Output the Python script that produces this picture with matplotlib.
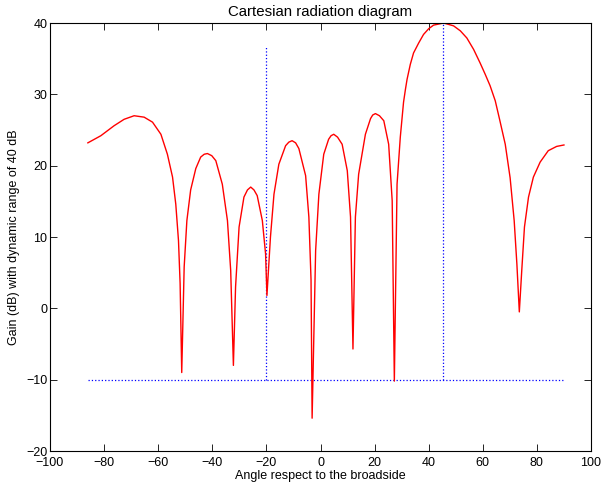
import matplotlib
matplotlib.use("Agg")
import matplotlib.pyplot as plt

# gain curve (angle in degrees, gain in dB)
angle = [-86, -81.2, -76.3, -72.6, -68.9, -65.2, -62.1, -59.0, -56.6, -54.7,
         -53.5, -52.5, -51.9, -51.3, -50.4, -49.4, -48.0, -46.1, -44.3, -43.0,
         -41.8, -40.2, -38.7, -36.3, -34.4, -33.2, -32.2, -31.4, -30.1, -28.3,
         -27.0, -25.8, -24.6, -23.4, -21.5, -20.3, -19.8, -18.5, -17.2, -15.4,
         -12.9, -11.7, -10.5, -9.2, -8.0, -5.5, -4.3, -3.5, -3.1, -1.8,
         -0.6, 1.2, 3.0, 3.9, 4.9, 6.3, 8.0, 9.9, 11.1, 12.0,
         12.9, 14.1, 16.6, 18.5, 19.3, 20.3, 21.8, 23.4, 25.2, 26.5,
         27.3, 28.3, 29.5, 30.7, 31.4, 32.0, 33.2, 34.4, 36.3, 38.1,
         40.0, 41.8, 45.5, 49.2, 51.7, 54.1, 56.6, 59.0, 60.9, 62.7,
         64.6, 66.2, 68.3, 70.1, 71.6, 72.6, 73.5, 74.4, 75.4, 76.9,
         78.7, 81.2, 84.2, 87.3, 90.0]
gain = [23.2, 24.2, 25.6, 26.5, 27.0, 26.8, 26.1, 24.4, 21.6, 18.4,
        14.6, 9.5, 3.5, -9.0, 5.8, 12.3, 16.6, 19.6, 21.2, 21.6,
        21.7, 21.4, 20.7, 17.4, 12.3, 5.3, -8.0, 3.0, 11.4, 15.6,
        16.6, 17.0, 16.6, 15.8, 12.3, 7.6, 1.8, 10.0, 16.0, 20.2,
        22.8, 23.3, 23.5, 23.2, 22.4, 18.6, 12.8, 4.0, -15.4, 8.1,
        16.0, 21.6, 23.7, 24.2, 24.4, 24.0, 23.0, 19.3, 12.8, -5.7,
        12.8, 18.8, 24.4, 26.6, 27.1, 27.3, 27.0, 26.3, 23.0, 15.1,
        -10.2, 17.4, 24.0, 28.9, 30.7, 32.1, 34.2, 35.8, 37.2, 38.4,
        39.2, 39.7, 40.0, 39.6, 38.9, 37.9, 36.3, 34.4, 32.8, 31.2,
        29.1, 26.5, 23.0, 18.3, 12.3, 6.2, -0.5, 5.3, 11.4, 15.6,
        18.4, 20.5, 22.1, 22.7, 22.9]

# reference markers
floor_x = [-86, 90]
floor_y = [-10, -10]
mark1_x = [-20, -20]
mark1_y = [-10, 36.8]
mark2_x = [45.4, 45.4]
mark2_y = [-10, 40]

plt.rcParams['font.family'] = ['Liberation Sans', 'DejaVu Sans']
plt.rcParams['font.size'] = 9

fig = plt.figure(figsize=(6.02, 4.83), dpi=100)
ax = fig.add_axes([50 / 602, 32 / 483, 541 / 602, 428 / 483])

ax.plot(floor_x, floor_y, ':', color='b', lw=0.9)
ax.plot(mark1_x, mark1_y, ':', color='b', lw=0.9)
ax.plot(mark2_x, mark2_y, ':', color='b', lw=0.9)
ax.plot(angle, gain, color='r', lw=1.0)

ax.set_xlim(-100, 100)
ax.set_ylim(-20, 40)
ax.set_xticks(range(-100, 101, 20))
ax.set_yticks(range(-20, 41, 10))
ax.tick_params(direction='in', top=True, right=True, length=5, width=0.6, pad=2)
ax.tick_params(axis='x', pad=4)
for s in ax.spines.values():
    s.set_linewidth(0.8)

ax.set_xlabel("Angle respect to the broadside", labelpad=1)
ax.set_ylabel("Gain (dB) with dynamic range of 40 dB", labelpad=4)
ax.set_title("Cartesian radiation diagram", pad=5)

fig.savefig("out.png", dpi=100)
